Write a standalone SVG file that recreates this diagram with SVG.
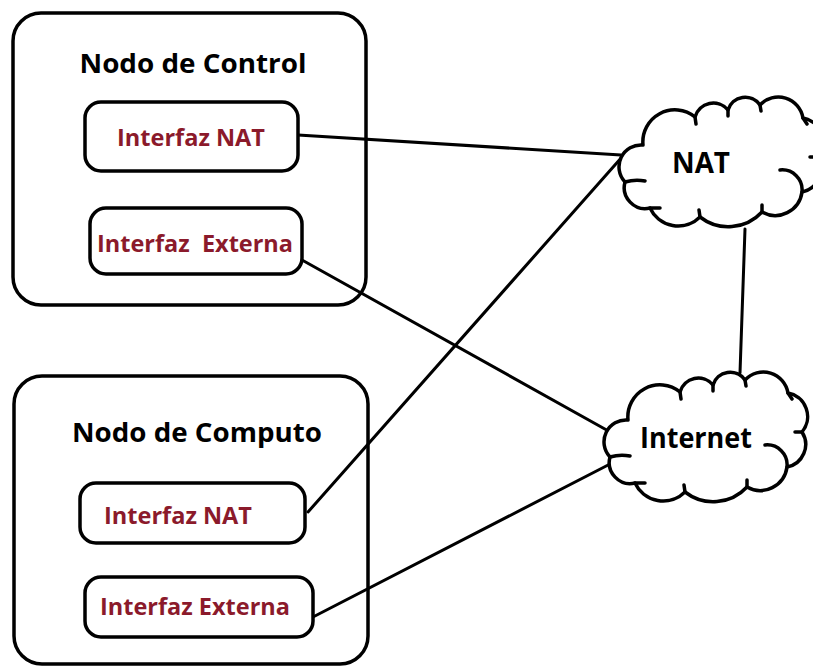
<svg xmlns="http://www.w3.org/2000/svg" width="813" height="666" viewBox="0 0 813 666">
  <style>
    .box { fill: none; stroke: #000000; stroke-width: 3.5; }
    .iface { fill: #ffffff; stroke: #000000; stroke-width: 3.5; }
    .cloud { fill: #ffffff; stroke: #000000; stroke-width: 3.5; stroke-linejoin: round; }
    .tick { fill: none; stroke: #000000; stroke-width: 3.5; stroke-linecap: round; }
    .link { fill: none; stroke: #000000; stroke-width: 3; stroke-linecap: round; }
    .title { font-family: "Open Sans", "Liberation Sans", sans-serif; font-weight: bold; font-size: 27px; fill: #000000; }
    .label { font-family: "Open Sans", "Liberation Sans", sans-serif; font-weight: bold; font-size: 23px; fill: #8b1a2b; }
    .cloudtext { font-family: "Open Sans", "Liberation Sans", sans-serif; font-weight: bold; font-size: 28px; fill: #000000; }
  </style>
  <defs>
    <!-- cloud outline, local coordinates: about 202 x 130 -->
    <g id="cloud">
      <path class="cloud" d="M5,85 A22,22 0 0 1 23,48 A32,32 0 0 1 75,20 A19,19 0 0 1 108,13 A18,18 0 0 1 140,8 A25,25 0 0 1 183,21 A24,24 0 0 1 197,60 A23,23 0 0 1 182,95 A27,27 0 0 1 142,115 A46,46 0 0 1 80,120 A31,31 0 0 1 30,111 A21,21 0 0 1 5,85 Z"/>
      <path class="tick" d="M5,85 Q15,82 25,84 M75,20 l1,7 M108,13 l0,6 M140,8 l1,6 M183,21 l4,6 M197,60 l-7,0 M160,73 A20,20 0 0 1 182,95 M142,115 l0,-7 M80,120 l-1,-7 M30,111 l10,0"/>
    </g>
  </defs>

  <!-- connectors -->
  <g id="connectors">
    <line class="link" x1="298" y1="135" x2="621" y2="155"/>
    <line class="link" x1="302" y1="260" x2="612" y2="433"/>
    <line class="link" x1="308" y1="512" x2="622" y2="157"/>
    <line class="link" x1="313" y1="617" x2="612" y2="463"/>
    <line class="link" x1="745" y1="229" x2="740" y2="373"/>
  </g>

  <!-- control node -->
  <g id="nodo-control">
    <rect class="box" x="13" y="13" width="353" height="292" rx="28" ry="28"/>
    <text class="title" x="193" y="73" text-anchor="middle" textLength="227" lengthAdjust="spacingAndGlyphs">Nodo de Control</text>
  </g>
  <g id="control-interfaz-nat">
    <rect class="iface" x="85" y="102" width="213" height="69" rx="16" ry="16"/>
    <text class="label" x="191" y="146" text-anchor="middle" textLength="148" lengthAdjust="spacingAndGlyphs">Interfaz NAT</text>
  </g>
  <g id="control-interfaz-externa">
    <rect class="iface" x="90" y="208" width="212" height="66" rx="16" ry="16"/>
    <text class="label" x="195" y="252" text-anchor="middle" textLength="196" lengthAdjust="spacingAndGlyphs" xml:space="preserve">Interfaz  Externa</text>
  </g>

  <!-- compute node -->
  <g id="nodo-computo">
    <rect class="box" x="14" y="376" width="354" height="288" rx="28" ry="28"/>
    <text class="title" x="197" y="442" text-anchor="middle" textLength="250" lengthAdjust="spacingAndGlyphs">Nodo de Computo</text>
  </g>
  <g id="computo-interfaz-nat">
    <rect class="iface" x="80" y="483" width="225" height="60" rx="16" ry="16"/>
    <text class="label" x="178" y="524" text-anchor="middle" textLength="148" lengthAdjust="spacingAndGlyphs">Interfaz NAT</text>
  </g>
  <g id="computo-interfaz-externa">
    <rect class="iface" x="85" y="577" width="228" height="60" rx="16" ry="16"/>
    <text class="label" x="195" y="615" text-anchor="middle" textLength="190" lengthAdjust="spacingAndGlyphs">Interfaz Externa</text>
  </g>

  <!-- clouds -->
  <g id="nat">
    <use href="#cloud" transform="translate(620,97)"/>
    <text class="cloudtext" x="701" y="173" text-anchor="middle" textLength="58" lengthAdjust="spacingAndGlyphs">NAT</text>
  </g>
  <g id="internet">
    <use href="#cloud" transform="translate(605,372)"/>
    <text class="cloudtext" x="696" y="448" text-anchor="middle" textLength="112" lengthAdjust="spacingAndGlyphs">Internet</text>
  </g>
</svg>
